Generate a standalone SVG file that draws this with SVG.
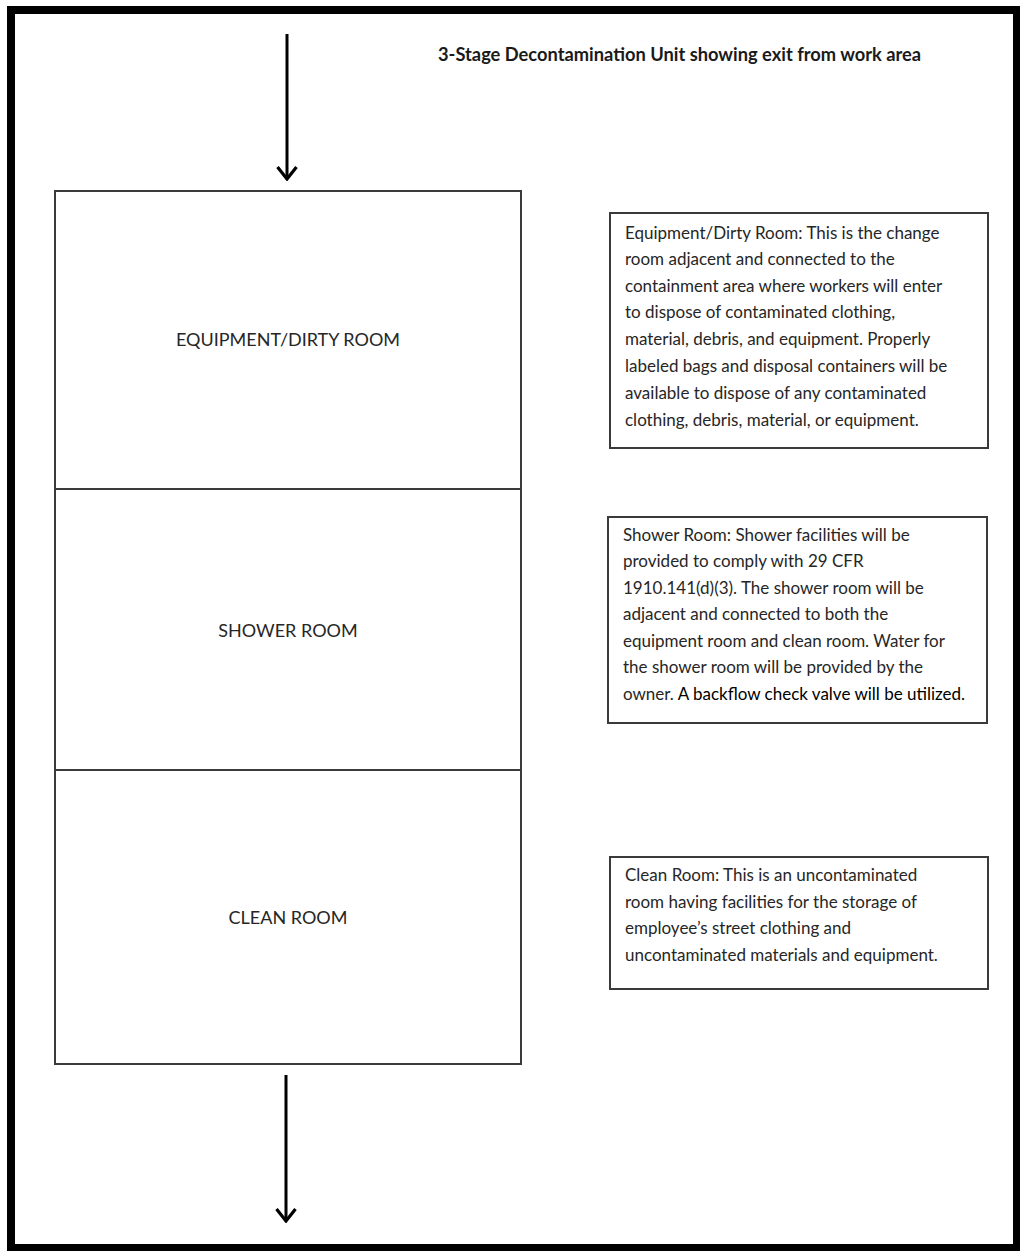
<svg xmlns="http://www.w3.org/2000/svg" width="1020" height="1251" viewBox="0 0 1020 1251">
<style>
.room{fill:#fff;stroke:#3a3a3a;stroke-width:2}
.lbl{font-family:Lato,"Liberation Sans",sans-serif;font-size:18px;fill:#262626;text-anchor:middle}
.note{fill:#fff;stroke:#3a3a3a;stroke-width:2}
.nt{font-family:Lato,"Liberation Sans",sans-serif;font-size:17px;fill:#262626}
.title{font-family:Lato,"Liberation Sans",sans-serif;font-size:18.3px;font-weight:bold;fill:#1a1a1a}
.flow{stroke:#000;stroke-width:3;fill:none}
</style>
<defs>
<marker id="chev" viewBox="0 0 16 22" refX="14" refY="11" markerWidth="16" markerHeight="22" markerUnits="userSpaceOnUse" orient="auto">
<path d="M2,1.5 L14,11 L2,20.5" fill="none" stroke="#000" stroke-width="3.2" stroke-linejoin="miter"/>
</marker>
</defs>
<rect width="1020" height="1251" fill="#fff"/>
<rect x="11" y="10" width="1006" height="1238" fill="none" stroke="#000" stroke-width="8"/>
<text class="title" x="438" y="61">3-Stage Decontamination Unit showing exit from work area</text>
<g id="equipment-room">
<rect class="room" x="55" y="191" width="466" height="298"/>
<text class="lbl" x="288" y="346">EQUIPMENT/DIRTY ROOM</text>
</g>
<g id="shower-room">
<rect class="room" x="55" y="489" width="466" height="281"/>
<text class="lbl" x="288" y="637">SHOWER ROOM</text>
</g>
<g id="clean-room">
<rect class="room" x="55" y="770" width="466" height="294"/>
<text class="lbl" x="288" y="924">CLEAN ROOM</text>
</g>
<g id="note-equipment">
<rect class="note" x="610" y="213" width="378" height="235"/>
<text class="nt" x="625" y="239">Equipment/Dirty Room: This is the change</text>
<text class="nt" x="625" y="265">room adjacent and connected to the</text>
<text class="nt" x="625" y="292">containment area where workers will enter</text>
<text class="nt" x="625" y="318">to dispose of contaminated clothing,</text>
<text class="nt" x="625" y="345">material, debris, and equipment. Properly</text>
<text class="nt" x="625" y="372">labeled bags and disposal containers will be</text>
<text class="nt" x="625" y="399">available to dispose of any contaminated</text>
<text class="nt" x="625" y="426">clothing, debris, material, or equipment.</text>
</g>
<g id="note-shower">
<rect class="note" x="608" y="517" width="379" height="206"/>
<text class="nt" x="623" y="541">Shower Room: Shower facilities will be</text>
<text class="nt" x="623" y="567">provided to comply with 29 CFR</text>
<text class="nt" x="623" y="594">1910.141(d)(3). The shower room will be</text>
<text class="nt" x="623" y="620">adjacent and connected to both the</text>
<text class="nt" x="623" y="647">equipment room and clean room. Water for</text>
<text class="nt" x="623" y="673">the shower room will be provided by the</text>
<text class="nt" x="623" y="700">owner. <tspan fill="#000">A backflow check valve will be utilized.</tspan></text>
</g>
<g id="note-clean">
<rect class="note" x="610" y="857" width="378" height="132"/>
<text class="nt" x="625" y="881">Clean Room: This is an uncontaminated</text>
<text class="nt" x="625" y="908">room having facilities for the storage of</text>
<text class="nt" x="625" y="934">employee’s street clothing and</text>
<text class="nt" x="625" y="961">uncontaminated materials and equipment.</text>
</g>
<g id="connectors">
<path class="flow" d="M287,34 L287,179" marker-end="url(#chev)"/>
<path class="flow" d="M286,1075 L286,1221" marker-end="url(#chev)"/>
</g>
</svg>
